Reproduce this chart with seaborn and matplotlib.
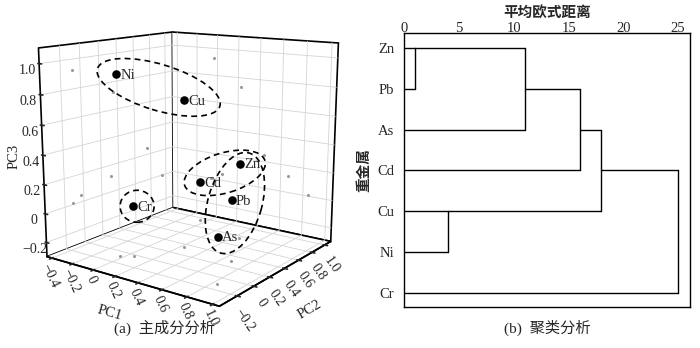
import numpy as np
import pandas as pd
import matplotlib
matplotlib.use("Agg")
import matplotlib.pyplot as plt
import seaborn as sns
from matplotlib.patches import Ellipse
from matplotlib.ticker import FuncFormatter
from mpl_toolkits.mplot3d import proj3d

# ---------------- data ----------------
metals = ["Ni", "Cu", "Zn", "Pb", "Cd", "As", "Cr"]
pc1 = [-0.03, 0.225, 0.45, 0.67, -0.06, 0.84, 0.05]
pc2 = [-0.085, 0.35, 0.755, 0.305, 0.95, -0.115, -0.025]
pc3 = [0.93, 0.73, 0.25, 0.12, 0.0, 0.01, 0.05]
groups = [["Ni", "Cu"], ["Cd", "Zn"], ["Zn", "Pb", "As"], ["Cr"]]

leaves = ["Zn", "Pb", "As", "Cd", "Cu", "Ni", "Cr"]
merge_a = ["Zn", "C1", "C2", "Cu", "C3", "C5"]
merge_b = ["Pb", "As", "Cd", "Ni", "C4", "Cr"]
merge_dist = [1, 11, 16, 4, 18, 25]

# ---------------- style ----------------
sns.set_theme(style="white")
FAM = ["Liberation Serif", "Noto Sans CJK SC"]
plt.rcParams["font.family"] = FAM
plt.rcParams["axes.unicode_minus"] = True
plt.rcParams["grid.color"] = "#d4d4d4"
plt.rcParams["grid.linewidth"] = 0.6

fig = plt.figure(figsize=(7.0, 3.48), dpi=100)
fig.patch.set_facecolor("white")

# ---------------- (a) 3D PCA ----------------
XL, YL, ZL = (-0.45, 1.05), (-0.40, 1.10), (-0.30, 1.10)
ax = fig.add_axes([0.009, 0.107, 0.52, 0.90], projection="3d")
ax.set_proj_type("persp", focal_length=0.5)
ax.view_init(elev=13, azim=-54)
ax.set_box_aspect((1, 1, 1.0), zoom=1.12)
ax.set_xlim(*XL); ax.set_ylim(*YL); ax.set_zlim(*ZL)

def fmt(v, pos):
    if abs(v) < 1e-9:
        return "0"
    return f"{v:.1f}".replace("-", "\u2212")

for a in (ax.xaxis, ax.yaxis, ax.zaxis):
    a.set_major_formatter(FuncFormatter(fmt))
    a.set_pane_color((1, 1, 1, 1))
    a.pane.set_edgecolor("black")
    a.pane.set_linewidth(1.2)
    a.line.set_color("black")
    a.line.set_linewidth(1.2)
    a._axinfo["grid"].update(color="#d4d4d4", linewidth=0.6)
    a._axinfo["tick"]["color"] = "black"
ax.zaxis._axinfo["juggled"] = (1, 2, 0)
ax.set_xticks([v for v in np.arange(-0.4, 1.01, 0.2)])
ax.set_yticks([v for v in np.arange(-0.2, 1.01, 0.2)])
ax.set_zticks([v for v in np.arange(-0.2, 1.01, 0.2)])
ax.tick_params(axis="x", labelsize=10, labelrotation=-65, pad=-6.5)
ax.tick_params(axis="y", labelsize=10, labelrotation=-55, pad=-3.5)
ax.tick_params(axis="z", labelsize=10, pad=-3.5)
ax.set_xlabel("PC1", fontsize=10.5, labelpad=-7)
ax.set_ylabel("PC2", fontsize=10.5, labelpad=-3)
ax.set_zlabel("PC3", fontsize=10.5, labelpad=-10)
ax.xaxis.set_rotate_label(True); ax.yaxis.set_rotate_label(True)
ax.zaxis.set_rotate_label(False)
ax.zaxis.label.set_rotation(90)
ax.grid(True)

p1, p2, p3 = np.array(pc1), np.array(pc2), np.array(pc3)
gcol = "#9a9a9a"
ax.scatter(np.full_like(p1, XL[0]), p2, p3, color=gcol, s=5, depthshade=False, lw=0)
ax.scatter(p1, np.full_like(p2, YL[1]), p3, color=gcol, s=5, depthshade=False, lw=0)
ax.scatter(p1, p2, np.full_like(p3, ZL[0]), color=gcol, s=5, depthshade=False, lw=0)
ax.scatter(p1, p2, p3, color="black", s=38, depthshade=False, lw=0)

fig.canvas.draw()
M = ax.get_proj()
scr = {}
for name, x, y, z in zip(metals, pc1, pc2, pc3):
    x2, y2, _ = proj3d.proj_transform(x, y, z, M)
    scr[name] = ax.transData.transform((x2, y2))

ov = fig.add_axes([0, 0, 1, 1])
ov.set_xlim(0, 700); ov.set_ylim(0, 348); ov.axis("off")
for name in metals:
    px, py = scr[name]
    ov.text(px + 4, py - 1, name, fontsize=10.5, ha="left", va="center")

ell_style = [  # (dx, dy, width, height, angle)
    (8.5, 0, 128, 46, -17),
    (4.5, 0, 84, 40, 17),
    (5, -3, 104, 54, 74),
    (4, 0, 34, 32, 0),
]
for grp, (dx, dy, w, h, ang) in zip(groups, ell_style):
    c = np.mean([scr[g] for g in grp], axis=0)
    ov.add_patch(Ellipse((c[0] + dx, c[1] + dy), w, h, angle=ang, fill=False,
                         ec="black", lw=1.2, ls=(0, (3.5, 2.5))))

fig.text(165 / 700, 1 - 328 / 348, "(a)  主成分分析", ha="center", va="center",
         fontsize=11, family=FAM)

# ---------------- (b) dendrogram ----------------
ax2 = fig.add_axes([404 / 700, (348 - 307) / 348, (690 - 404) / 700, 274 / 348])
row = {n: i for i, n in enumerate(leaves)}
start = {n: 0.0 for n in leaves}
segs = []
for k, (a, b, d) in enumerate(zip(merge_a, merge_b, merge_dist)):
    ya, yb = row[a], row[b]
    segs.append(([start[a], d], [ya, ya]))
    segs.append(([start[b], d], [yb, yb]))
    segs.append(([d, d], [ya, yb]))
    cname = f"C{k + 1}"
    row[cname] = int(np.floor((ya + yb) / 2))
    start[cname] = d
recs = []
for i, (xs, ys) in enumerate(segs):
    for xv, yv in zip(xs, ys):
        recs.append({"x": xv, "y": yv, "seg": i})
df = pd.DataFrame(recs)
sns.lineplot(data=df, x="x", y="y", units="seg", estimator=None, sort=False,
             color="black", lw=1.0, ax=ax2, legend=False)
ax2.set_xlim(-0.05, 26.1)
ax2.set_ylim(6.35, -0.37)
ax2.set_yticks(range(len(leaves)))
ax2.set_yticklabels(leaves, fontsize=10.5)
ax2.set_xticks([0, 5, 10, 15, 20, 25])
ax2.xaxis.tick_top()
ax2.xaxis.set_label_position("top")
ax2.tick_params(axis="x", labelsize=10.5, length=0, pad=-1.5)
ax2.tick_params(axis="y", length=0, pad=7)
ax2.set_xlabel("平均欧式距离", fontsize=10.5, fontweight="bold", labelpad=3.5)
ax2.set_ylabel("重金属", fontsize=10.5, fontweight="bold", labelpad=4)
for s in ax2.spines.values():
    s.set_color("black"); s.set_linewidth(1.0); s.set_visible(True)
ax2.set_facecolor("white")

fig.text(547 / 700, 1 - 328 / 348, "(b)  聚类分析", ha="center", va="center",
         fontsize=11, family=FAM)

fig.savefig("out.png", dpi=100, facecolor="white")
